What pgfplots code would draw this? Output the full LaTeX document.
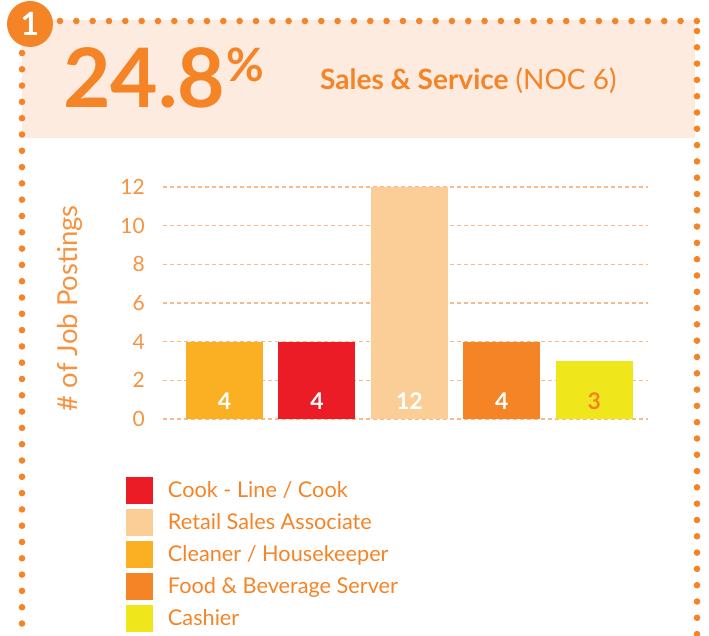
\documentclass[border=0pt]{standalone}
\usepackage{fontspec}
\setmainfont{Lato}
\usepackage{pgfplots}
\pgfplotsset{compat=1.18}

\definecolor{ora}{HTML}{F58426}
\definecolor{band}{HTML}{FDEBDF}
\definecolor{cleaner}{HTML}{FBB024}
\definecolor{cook}{HTML}{EC1C27}
\definecolor{retail}{HTML}{FBCE97}
\definecolor{cashier}{HTML}{EFE71C}
\definecolor{gridc}{HTML}{F9B98A}
\definecolor{tickc}{HTML}{F7923F}

\begin{document}
\begin{tikzpicture}[x=1pt,y=1pt]
\useasboundingbox (0,0) rectangle (709,636);
\clip (0,0) rectangle (709,636);
% header band and dotted frame
\fill[band] (22,498) rectangle (695,616);
\foreach \i in {0,...,39} \fill[ora] (60+\i*16.33,615) circle (3.3);
\foreach \i in {0,...,37} \fill[ora] (697,605-\i*16.3) circle (3.3);
\foreach \i in {0,...,36} \fill[ora] (22,583-\i*16.3) circle (3.3);
\fill[ora] (30,612) circle (23);
\node[white, font=\bfseries\fontsize{32}{32}\selectfont] at (30,612) {1};
% title
\node[ora, anchor=base west, inner sep=0pt, font=\bfseries\fontsize{82}{82}\selectfont] at (63,528) {24.8};
\node[ora, anchor=base west, inner sep=0pt, font=\bfseries\fontsize{46}{46}\selectfont] at (226,554) {\%};
\node[ora, anchor=base west, inner sep=0pt, font=\fontsize{28}{28}\selectfont] at (320,546) {\textbf{Sales \& Service} (NOC 6)};

\begin{axis}[
    at={(163pt,217pt)}, anchor=south west,
    scale only axis, width=485pt, height=232pt,
    ymin=0, ymax=12, xmin=-0.665, xmax=4.58,
    ybar, bar width=77pt, bar shift=0pt,
    axis line style={draw=none},
    xtick=\empty, ytick={0,2,...,12}, major tick length=0pt,
    ymajorgrids, grid style={gridc, line width=1.3pt, dash pattern=on 4pt off 3pt},
    /pgf/number format/assume math mode=true,
    yticklabel style={font=\fontsize{21}{21}\selectfont, text=tickc, inner sep=0pt, xshift=-18pt},
    ylabel={\# of Job Postings},
    every axis y label/.style={at={(axis description cs:-0.192,0.478)}, rotate=90, anchor=center,
        font=\fontsize{27.5}{27.5}\selectfont, text=tickc},
    legend image code/.code={\fill[#1] (0pt,-13.5pt) rectangle (27pt,13.5pt);},
    legend cell align=left,
    legend style={at={(rel axis cs:-0.0763,-0.248)}, anchor=north west,
        draw=none, fill=none, inner sep=0pt, outer sep=0pt,
        font=\fontsize{21.7}{21.7}\selectfont, text=ora, row sep=5pt,
        nodes={inner sep=0pt, text height=15pt, text depth=0pt},
        /tikz/every odd column/.append style={column sep=15pt}},
]
\addplot[fill=cook, draw=none] coordinates {(1,4)};
\addplot[fill=retail, draw=none] coordinates {(2,12)};
\addplot[fill=cleaner, draw=none] coordinates {(0,4)};
\addplot[fill=ora, draw=none] coordinates {(3,4)};
\addplot[fill=cashier, draw=none] coordinates {(4,3)};
\legend{Cook - Line / Cook, Retail Sales Associate, Cleaner / Housekeeper, Food \& Beverage Server, Cashier}
% value labels at the foot of each bar
\addplot[draw=none, fill=none, forget plot, nodes near coords, point meta=explicit symbolic,
    every node near coord/.append style={anchor=base, yshift=9pt, text=white, font=\bfseries\fontsize{23}{23}\selectfont}]
    coordinates {(0,0) [4] (1,0) [4] (2,0) [12] (3,0) [4]};
\addplot[draw=none, fill=none, forget plot, nodes near coords, point meta=explicit symbolic,
    every node near coord/.append style={anchor=base, yshift=9pt, text=ora, font=\bfseries\fontsize{23}{23}\selectfont}]
    coordinates {(4,0) [3]};
\end{axis}
\end{tikzpicture}
\end{document}
